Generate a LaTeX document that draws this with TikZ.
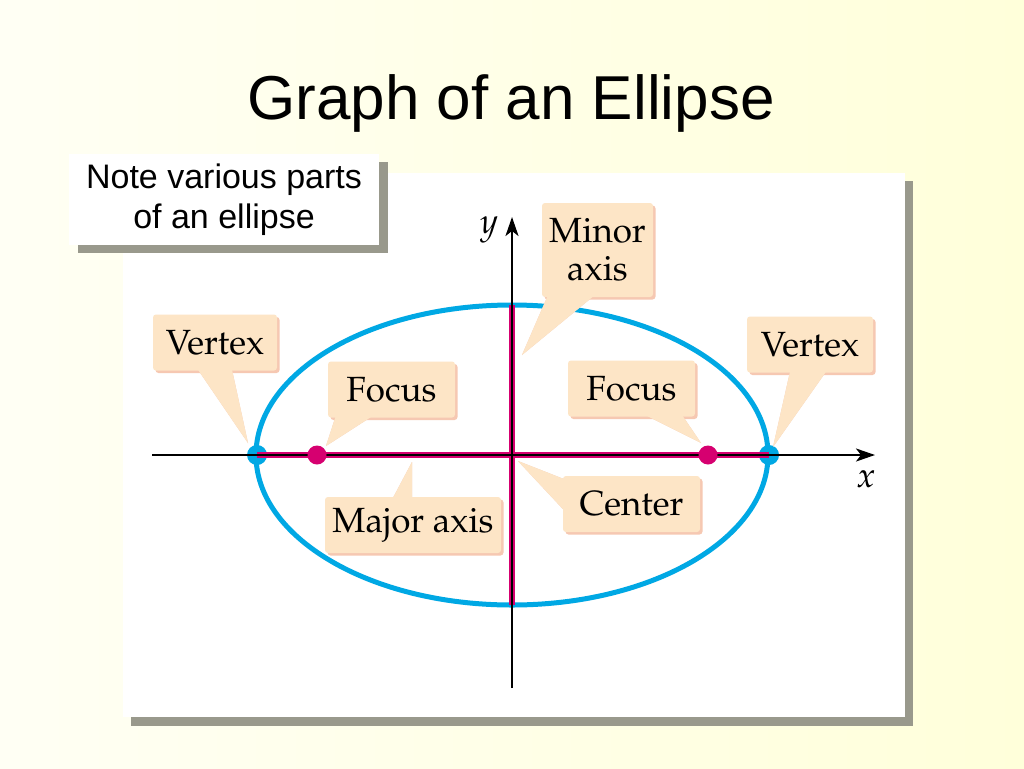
\documentclass[tikz,border=0pt]{standalone}
\usepackage[T1]{fontenc}
\usepackage{fontspec}
\usetikzlibrary{calc,shadows,arrows.meta}
\newfontfamily\arialf{Liberation Sans}
\newcommand\palf{\fontencoding{T1}\fontfamily{ppl}\selectfont}
\definecolor{bgL}{RGB}{255,255,244}
\definecolor{bgR}{RGB}{255,255,218}
\definecolor{panelshadow}{RGB}{153,153,140}
\definecolor{ellcol}{RGB}{0,168,228}
\definecolor{magcol}{RGB}{214,0,112}
\definecolor{peach}{RGB}{253,229,198}
\definecolor{peachshadow}{RGB}{246,200,178}
\pgfdeclarelayer{bgl}
\pgfdeclarelayer{psh}
\pgfsetlayers{bgl,psh,main}
\begin{document}
\begin{tikzpicture}[x=1pt,y=-1pt,
  lbl/.style={fill=peach, rounded corners=3pt, inner sep=0pt, minimum height=56pt,
    align=center, font=\palf\fontsize{35}{38}\selectfont,
    general shadow={fill=peachshadow, shadow xshift=2.5pt, shadow yshift=-2.5pt}},
  ptr/.style={fill=peach},
  ptrsh/.style={fill=peachshadow, shift={(2.5,2.5)}},
  notebox/.style={fill=white, inner sep=0pt, minimum width=310pt, minimum height=91pt,
    align=center, font=\arialf\fontsize{34}{40}\selectfont,
    general shadow={fill=panelshadow, shadow xshift=8.5pt, shadow yshift=-8pt}},
  vdot/.style={circle, fill=ellcol, minimum size=20pt, inner sep=0pt},
  fdot/.style={circle, fill=magcol, minimum size=19pt, inner sep=0pt},
  axisline/.style={black, line width=2.3pt, -{Stealth[length=19pt,width=13pt,inset=5pt]}},
  axlab/.style={font=\palf\itshape\fontsize{35}{38}\selectfont, inner sep=0pt}]
\begin{pgfonlayer}{bgl}
\shade[left color=bgL, right color=bgR] (0,0) rectangle (1024,768);
\useasboundingbox (0,0) rectangle (1024,768);
% panel
\fill[panelshadow] (131,181) rectangle (913,726);
\fill[white] (123,173) rectangle (905,717);
% title and note
\node[font=\arialf\fontsize{62}{72}\selectfont, anchor=base, inner sep=0pt] (title) at (511,119) {Graph of an Ellipse};
\node[notebox] (note) at (224,199.5) {Note various parts\\of an ellipse};
% coordinates
\coordinate (O) at (512,455);
\coordinate (xa) at (152,455);
\coordinate (xb) at (875,455);
\coordinate (ya) at (512,688);
\coordinate (yb) at (512,217);
\coordinate (mt) at (512,305);
\coordinate (mb) at (512,605);
% ellipse
\draw[ellcol, line width=5pt] (O) ellipse [x radius=256, y radius=150];
% vertices
\node[vdot] (v1) at (257,455) {};
\node[vdot] (v2) at (769,455) {};
% major and minor axes
\draw[magcol, line width=6.5pt] (v1.center) -- (v2.center);
\draw[magcol, line width=6.5pt] (mt) -- (mb);
% coordinate axes
\draw[axisline] (xa) -- (xb);
\draw[axisline] (ya) -- (yb);
\node[axlab] (ylab) at (489,230) {y};
\node[axlab] (xlab) at (866,479) {x};
% foci
\node[fdot] (f1) at (317,455) {};
\node[fdot] (f2) at (708,455) {};
\end{pgfonlayer}
% callout tips
\coordinate (vlt) at (248,443);
\coordinate (flt) at (326,446);
\coordinate (mat) at (412,462);
\coordinate (cet) at (518,461);
\coordinate (mit) at (522,355);
\coordinate (frt) at (701,443);
\coordinate (vrt) at (773,447);
% callout boxes
\node[lbl, minimum width=124pt] (vl) at (215,342.5) {Vertex};
\node[lbl, minimum width=127pt] (fl) at (391.5,389.5) {Focus};
\node[lbl, minimum width=176pt] (ma) at (413,525) {Major axis};
\node[lbl, minimum width=137pt] (ce) at (631.5,504) {Center};
\node[lbl, minimum width=111pt, minimum height=94pt] (mi) at (597.5,250) {Minor\\axis};
\node[lbl, minimum width=127pt] (fr) at (631.5,388.5) {Focus};
\node[lbl, minimum width=126pt] (vr) at (810,344.5) {Vertex};
% pointer shadows
\begin{pgfonlayer}{psh}
\fill[ptrsh] ($(vl.south)+(-17,-1)$) -- (vlt) -- ($(vl.south)+(17,-1)$) -- cycle;
\fill[ptrsh] ($(fl.south)+(-56,-1)$) -- (flt) -- ($(fl.south)+(-20,-1)$) -- cycle;
\fill[ptrsh] ($(ma.north)+(-20,1)$) -- (mat) -- ($(ma.north)+(-1,1)$) -- cycle;
\fill[ptrsh] ($(ce.west)+(1,-25)$) -- (cet) -- ($(ce.west)+(1,6)$) -- cycle;
\fill[ptrsh] ($(mi.south)+(-50,-1)$) -- (mit) -- ($(mi.south)+(-4,-1)$) -- cycle;
\fill[ptrsh] ($(fr.south)+(15,-1)$) -- (frt) -- ($(fr.south)+(51,-1)$) -- cycle;
\fill[ptrsh] ($(vr.south)+(-20,-1)$) -- (vrt) -- ($(vr.south)+(16,-1)$) -- cycle;
\end{pgfonlayer}
% pointers
\fill[ptr] ($(vl.south)+(-17,-1)$) -- (vlt) -- ($(vl.south)+(17,-1)$) -- cycle;
\fill[ptr] ($(fl.south)+(-56,-1)$) -- (flt) -- ($(fl.south)+(-20,-1)$) -- cycle;
\fill[ptr] ($(ma.north)+(-20,1)$) -- (mat) -- ($(ma.north)+(-1,1)$) -- cycle;
\fill[ptr] ($(ce.west)+(1,-25)$) -- (cet) -- ($(ce.west)+(1,6)$) -- cycle;
\fill[ptr] ($(mi.south)+(-50,-1)$) -- (mit) -- ($(mi.south)+(-4,-1)$) -- cycle;
\fill[ptr] ($(fr.south)+(15,-1)$) -- (frt) -- ($(fr.south)+(51,-1)$) -- cycle;
\fill[ptr] ($(vr.south)+(-20,-1)$) -- (vrt) -- ($(vr.south)+(16,-1)$) -- cycle;
\end{tikzpicture}
\end{document}
